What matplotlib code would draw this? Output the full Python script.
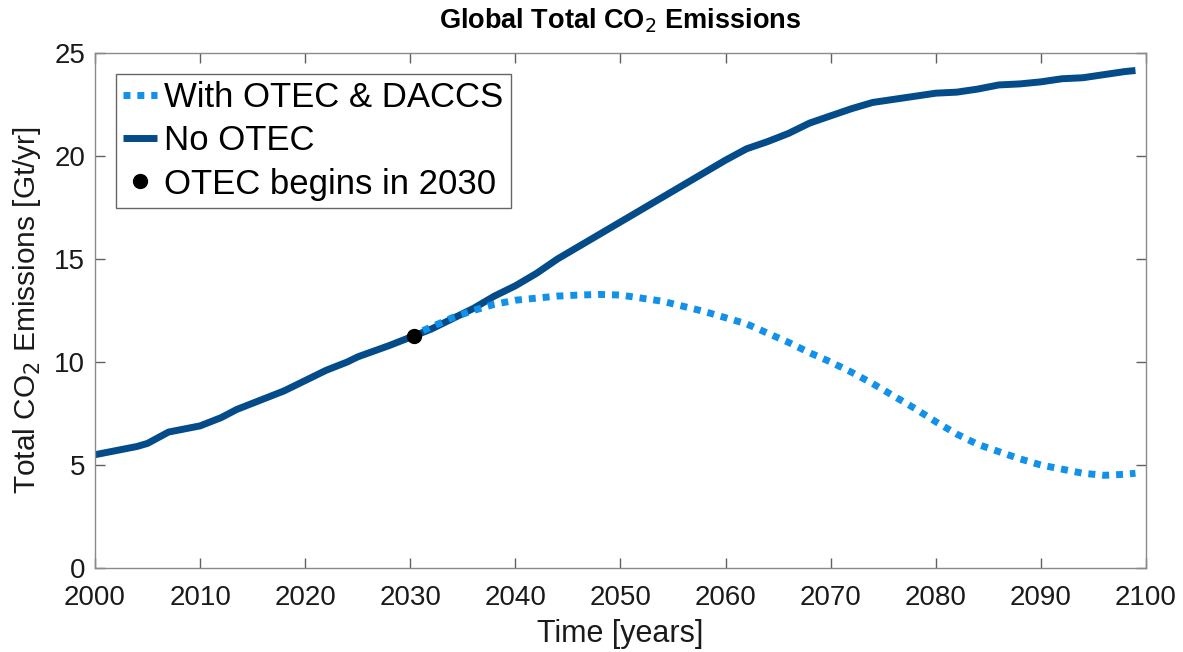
import matplotlib
matplotlib.use("Agg")
import matplotlib.pyplot as plt

plt.rcParams['font.family'] = ['Liberation Sans', 'DejaVu Sans']

# Baseline emissions (no OTEC)
years_base = [2000, 2002, 2004, 2005, 2007, 2010, 2012, 2013.5, 2016, 2018,
              2020, 2022, 2024, 2025, 2028, 2030, 2032, 2034, 2036, 2038,
              2040, 2042, 2044, 2046, 2048, 2050, 2052, 2054, 2056, 2058,
              2060, 2062, 2064, 2066, 2068, 2070, 2072, 2074, 2076, 2078,
              2080, 2082, 2084, 2086, 2088, 2090, 2092, 2094, 2096, 2098, 2099]
emis_base = [5.5, 5.7, 5.9, 6.05, 6.6, 6.9, 7.3, 7.7, 8.2, 8.6,
             9.1, 9.6, 10.0, 10.25, 10.8, 11.2, 11.6, 12.1, 12.6, 13.2,
             13.7, 14.3, 15.0, 15.6, 16.2, 16.8, 17.4, 18.0, 18.6, 19.2,
             19.8, 20.35, 20.7, 21.1, 21.6, 21.95, 22.3, 22.6, 22.75, 22.9,
             23.05, 23.1, 23.25, 23.45, 23.5, 23.6, 23.75, 23.8, 23.95, 24.1, 24.15]

# Emissions with OTEC & DACCS from 2030 on
years_otec = [2030, 2032, 2034, 2036, 2038, 2040, 2042, 2044, 2046, 2048,
              2050, 2052, 2054, 2056, 2058, 2060, 2062, 2064, 2066, 2068,
              2070, 2072, 2074, 2076, 2078, 2080, 2082, 2084, 2086, 2088,
              2090, 2092, 2094, 2096, 2098, 2099]
emis_otec = [11.25, 11.7, 12.15, 12.5, 12.8, 13.0, 13.1, 13.2, 13.25, 13.28,
             13.25, 13.1, 12.95, 12.7, 12.45, 12.15, 11.85, 11.4, 10.95, 10.45,
             10.0, 9.5, 8.95, 8.35, 7.75, 7.1, 6.5, 6.0, 5.65, 5.3,
             5.0, 4.8, 4.6, 4.5, 4.55, 4.6]

start_year = 2030.4
start_value = 11.26

x_ticks = [2000, 2010, 2020, 2030, 2040, 2050, 2060, 2070, 2080, 2090, 2100]
y_ticks = [0, 5, 10, 15, 20, 25]

fig = plt.figure(figsize=(11.83, 6.52), dpi=100)
ax = fig.add_axes([0.0803, 0.1288, 0.8884, 0.7899])

ax.plot(years_otec, emis_otec, color='#1191ea', lw=5, ls=(0, (1.0, 1.0)),
        label='With OTEC & DACCS', zorder=3)
ax.plot(years_base, emis_base, color='#034b89', lw=5,
        solid_capstyle='butt', label='No OTEC', zorder=2)
ax.plot([start_year], [start_value], 'o', color='black', ms=10,
        ls='none', label='OTEC begins in 2030', zorder=4)

ax.set_xlim(2000, 2100)
ax.set_ylim(0, 25)
ax.set_xticks(x_ticks)
ax.set_yticks(y_ticks)

for s in ax.spines.values():
    s.set_color('#8a8a8a')
    s.set_linewidth(1.0)
ax.tick_params(direction='in', length=7, width=1, color='#606060',
               labelsize=20, top=True, right=True, labelcolor='#1a1a1a')
ax.tick_params(axis='x', pad=12)
ax.tick_params(axis='y', pad=7)

ax.set_xlabel('Time [years]', fontsize=22, color='#1a1a1a', labelpad=6)
ax.set_ylabel('Total CO$_2$ Emissions [Gt/yr]', fontsize=21.5,
              color='#1a1a1a', labelpad=8)
ax.set_title('Global Total CO$_2$ Emissions', fontsize=19.5,
             fontweight='bold', pad=18)

leg = ax.legend(loc='upper left', fontsize=25, frameon=True, fancybox=False,
                edgecolor='#404040', handlelength=1.0, handletextpad=0.2,
                borderpad=0.2, labelspacing=0.3, borderaxespad=0.6)
leg.get_frame().set_linewidth(1.0)

fig.savefig('out.png', dpi=100)
